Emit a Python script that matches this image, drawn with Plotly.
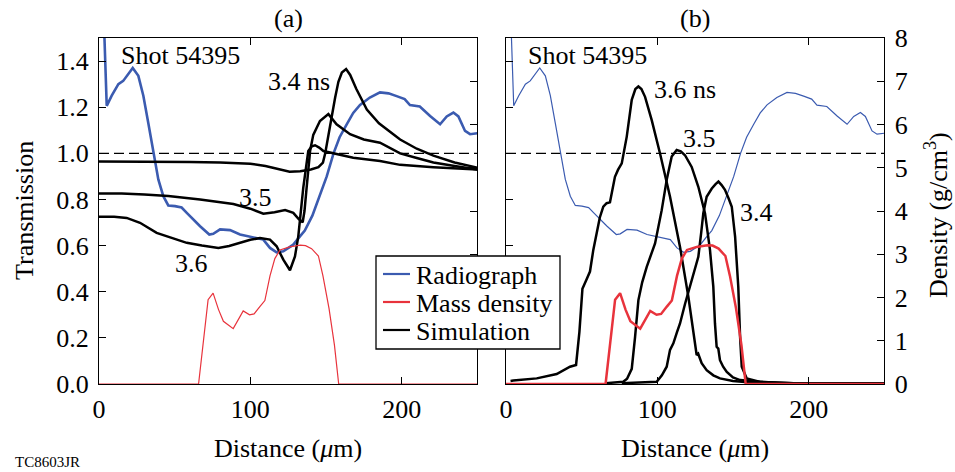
import plotly.graph_objects as go

# ---------------- data ----------------
# Radiograph transmission (shared by both panels)
rad_x = [3.0, 5.1, 8.4, 12.8, 16, 22.3, 26, 29.3, 32.6, 35.9, 39.2, 42.5, 45.8, 50.2, 54.6, 58, 62.3,
         66.8, 72.9, 75.5, 80, 86.6, 93.2, 102, 108.6, 113, 117.4, 121.8, 128.4, 132.8, 136, 141,
         146, 150.5, 155, 159, 163.7, 168, 172.5, 179, 185.7, 191.3, 196.7, 202, 205.5, 212, 218.8,
         225.4, 229.8, 234.2, 237.5, 241.9, 245.2, 250]
rad_t = [1.62, 1.206, 1.25, 1.30, 1.314, 1.37, 1.336, 1.25, 1.13, 1.0, 0.887, 0.814, 0.774, 0.771,
         0.765, 0.742, 0.713, 0.684, 0.648, 0.651, 0.67, 0.667, 0.648, 0.636, 0.626, 0.59, 0.571,
         0.575, 0.604, 0.64, 0.665, 0.73, 0.822, 0.9, 1.0, 1.07, 1.126, 1.175, 1.21, 1.242, 1.264,
         1.26, 1.248, 1.235, 1.209, 1.203, 1.162, 1.126, 1.16, 1.177, 1.16, 1.097, 1.083, 1.087]

# Mass density (g/cm^3)
rho_x = [0, 65.8, 72.1, 75.4, 79, 82.2, 88.7, 92, 95.3, 99.5, 102.5, 106.3, 109.6, 113, 116.2,
         119.6, 126, 133, 136.5, 140.5, 145, 148, 152, 155.6, 158.4, 250]
rho_d = [0, 0, 1.95, 2.1, 1.72, 1.45, 1.28, 1.5, 1.69, 1.6, 1.62, 1.79, 1.93, 2.5, 2.9,
         3.1, 3.17, 3.21, 3.2, 3.13, 2.96, 2.5, 1.75, 0.9, 0, 0]

# Simulated transmission, panel (a)
simT34_x = [0, 20, 40, 60, 80, 100, 110, 120, 126, 133, 140, 145, 148, 149.5, 151.5, 153.8, 156,
            158.2, 160.5, 163.3, 166, 170, 177, 185, 199, 210, 221, 235, 250]
simT34_t = [0.965, 0.965, 0.963, 0.962, 0.96, 0.955, 0.945, 0.93, 0.92, 0.922, 0.93, 0.94, 0.96,
            1.0, 1.08, 1.16, 1.24, 1.31, 1.35, 1.365, 1.34, 1.28, 1.19, 1.13, 1.06, 1.02, 0.99,
            0.96, 0.938]
simT35_x = [0, 15, 30, 45.8, 66.8, 88.8, 100, 108.6, 116, 123, 128.4, 132, 134.6, 135.8, 137.2,
            139.5, 141.6, 146, 151.6, 157, 165.9, 175, 185.7, 199, 210, 221, 235, 250]
simT35_t = [0.826, 0.826, 0.822, 0.815, 0.8, 0.78, 0.76, 0.738, 0.745, 0.754, 0.742, 0.715, 0.701,
            0.75, 0.85, 1.01, 1.08, 1.14, 1.17, 1.126, 1.083, 1.06, 1.046, 1.0, 0.98, 0.96, 0.945,
            0.93]
simT36_x = [0, 10, 18.3, 27.1, 38.1, 44.7, 58, 68, 78.9, 86, 93.2, 100, 106.4, 113, 117.4, 121.8,
            126.2, 129.5, 131.7, 135, 138.3, 140.6, 142.8, 145.5, 148.3, 157, 168, 185.7, 199, 221,
            250]
simT36_t = [0.725, 0.725, 0.72, 0.699, 0.655, 0.64, 0.612, 0.6, 0.59, 0.598, 0.612, 0.625, 0.633,
            0.626, 0.597, 0.539, 0.493, 0.553, 0.64, 0.851, 1.01, 1.03, 1.035, 1.025, 1.01, 0.996,
            0.981, 0.967, 0.95, 0.94, 0.93]

# Simulated density, panel (b)
simD36_x = [3.0, 4.8, 20.3, 33.5, 42.3, 46.3, 48.5, 50.5, 53, 55.5, 57.7, 59.9, 62, 64.3, 66.5,
            68.7, 72, 74, 76.5, 79.8, 83.1, 85.5, 87.5, 89.5, 91.9, 96.3, 101.8, 108.4, 115, 120.5,
            123.8, 126, 127, 128, 129.3, 132.6, 137, 141.4, 150, 160, 180, 250]
simD36_d = [0.07, 0.08, 0.13, 0.23, 0.4, 0.44, 1.2, 2.2, 2.4, 2.6, 3.1, 3.45, 3.85, 4.1, 4.18,
            4.2, 4.79, 4.95, 5.1, 5.72, 6.57, 6.82, 6.88, 6.82, 6.64, 6.1, 5.33, 4.33, 3.17, 2.02,
            1.25, 0.67, 0.7, 0.62, 0.48, 0.32, 0.2, 0.13, 0.07, 0.04, 0.02, 0.01]
simD35_x = [66, 72, 77.5, 80, 83.1, 85.3, 87.5, 90, 93, 98.5, 102.9, 106.2, 109.5, 112.8, 115.5,
            118.3, 122.7, 127.1, 131.5, 134.8, 137, 138.1, 139.2, 140.3, 141.4, 143.5, 145.9, 150,
            154.7, 167.9, 190, 250]
simD35_d = [0.02, 0.03, 0.05, 0.12, 0.35, 1.09, 1.94, 2.35, 2.71, 3.25, 4.02, 4.72, 5.26, 5.41,
            5.38, 5.29, 5.02, 4.56, 3.95, 3.1, 2.25, 1.4, 0.86, 0.82, 0.55, 0.4, 0.28, 0.15, 0.09,
            0.05, 0.02, 0.01]
simD34_x = [76.5, 90, 99.6, 103, 106.2, 108.4, 110.6, 113, 115, 118.3, 121.6, 124.5, 127.1, 129,
            130.4, 132.6, 136, 138.5, 140.4, 142.5, 144.7, 147, 149.2, 151.4, 153.5, 154.7, 155.8,
            159.1, 168, 190, 250]
simD34_d = [0.02, 0.03, 0.05, 0.2, 0.4, 0.79, 0.94, 1.2, 1.4, 1.85, 2.25, 2.6, 2.94, 3.5, 3.95,
            4.33, 4.52, 4.62, 4.68, 4.6, 4.49, 4.3, 4.1, 3.41, 2.25, 1.09, 0.4, 0.13, 0.05, 0.02,
            0.01]

x_ticks = [0, 100, 200]
t_ticks = [0.0, 0.2, 0.4, 0.6, 0.8, 1.0, 1.2, 1.4]
d_ticks = [0, 1, 2, 3, 4, 5, 6, 7, 8]
unity = 1.0
legend_names = ["Radiograph", "Mass density", "Simulation"]

# ---------------- style ----------------
W, H = 955, 472
FONT = '"Liberation Serif", "Times New Roman", Times, serif'
BLUE = "#3b5bb0"
RED = "#e8333c"
BLACK = "#000000"
legend_colors = [BLUE, RED, BLACK]


def px(x):
    return x / W


def py(y):
    return 1 - y / H


XL = [px(99), px(477.3)]
XR = [px(506), px(884.3)]
YD = [py(384), py(38)]

fig = go.Figure()

# panel (a)
fig.add_trace(go.Scatter(x=rad_x, y=rad_t, mode="lines", line=dict(color=BLUE, width=2.6),
                         name="Radiograph", xaxis="x", yaxis="y"))
fig.add_trace(go.Scatter(x=rho_x, y=rho_d, mode="lines", line=dict(color=RED, width=1.2),
                         name="Mass density", xaxis="x", yaxis="y2"))
for sx, st in [(simT34_x, simT34_t), (simT35_x, simT35_t), (simT36_x, simT36_t)]:
    fig.add_trace(go.Scatter(x=sx, y=st, mode="lines", line=dict(color=BLACK, width=2.5),
                             name="Simulation", xaxis="x", yaxis="y"))

# panel (b)
fig.add_trace(go.Scatter(x=rad_x, y=rad_t, mode="lines", line=dict(color=BLUE, width=1.2),
                         name="Radiograph", xaxis="x2", yaxis="y3"))
for sx, sd in [(simD36_x, simD36_d), (simD35_x, simD35_d), (simD34_x, simD34_d)]:
    fig.add_trace(go.Scatter(x=sx, y=sd, mode="lines", line=dict(color=BLACK, width=2.5),
                             name="Simulation", xaxis="x2", yaxis="y4"))
fig.add_trace(go.Scatter(x=rho_x, y=rho_d, mode="lines", line=dict(color=RED, width=2.5),
                         name="Mass density", xaxis="x2", yaxis="y4"))

# dashed unity lines
for xa, ya in [("x", "y"), ("x2", "y3")]:
    fig.add_shape(type="line", xref=xa, yref=ya, x0=0, x1=250, y0=unity, y1=unity,
                  line=dict(color=BLACK, width=1.3, dash="10px,5px"), layer="below")

axis_common = dict(showline=True, linecolor=BLACK, linewidth=1.3, ticks="inside", ticklen=7,
                   tickwidth=1.3, tickcolor=BLACK, showgrid=False, zeroline=False,
                   tickfont=dict(family=FONT, size=26, color=BLACK), automargin=False)

fig.update_layout(
    width=W, height=H, margin=dict(l=0, r=0, t=0, b=0),
    paper_bgcolor="white", plot_bgcolor="white", template="none",
    font=dict(family=FONT, size=26, color=BLACK),
    showlegend=False,
    xaxis=dict(domain=XL, anchor="y", range=[0, 250], tickvals=x_ticks, mirror="ticks",
               ticklabelstandoff=2, **axis_common),
    yaxis=dict(domain=YD, anchor="x", range=[0, 1.5], tickvals=t_ticks, tickformat=".1f",
               ticklabelstandoff=4, **axis_common),
    yaxis2=dict(overlaying="y", anchor="x", side="right", range=[0, 8], tickvals=d_ticks,
                showticklabels=False, **axis_common),
    xaxis2=dict(domain=XR, anchor="y3", range=[0, 250], tickvals=x_ticks, mirror="ticks",
                ticklabelstandoff=2, **axis_common),
    yaxis3=dict(domain=YD, anchor="x2", range=[0, 1.5], tickvals=t_ticks,
                showticklabels=False, **axis_common),
    yaxis4=dict(overlaying="y3", anchor="x2", side="right", range=[0, 8], tickvals=d_ticks,
                ticklabelstandoff=4, **axis_common),
)


def ann(text, x, y, size=26, angle=0, xanchor="center"):
    fig.add_annotation(text=text, x=px(x), y=py(y), xref="paper", yref="paper",
                       xanchor=xanchor, yanchor="middle", showarrow=False, textangle=angle,
                       font=dict(family=FONT, size=size, color=BLACK))


# legend box (drawn over the axes, as in the reference)
fig.add_shape(type="rect", xref="paper", yref="paper", x0=px(376), x1=px(560),
              y0=py(349), y1=py(256), fillcolor="white", line=dict(color=BLACK, width=1.3),
              layer="above")
for i, (name, col) in enumerate(zip(legend_names, legend_colors)):
    yc = 274 + i * 28
    fig.add_shape(type="line", xref="paper", yref="paper", x0=px(383), x1=px(410),
                  y0=py(yc), y1=py(yc), line=dict(color=col, width=2.2), layer="above")
    ann(name, 414, yc + 1, xanchor="left")

ann("(a)", 288, 18)
ann("(b)", 695, 18)
ann("Shot 54395", 180, 55)
ann("Shot 54395", 587, 55)
ann("3.4 ns", 299, 82)
ann("3.5", 255, 197)
ann("3.6", 191.5, 263)
ann("3.6 ns", 685, 90)
ann("3.5", 699, 138)
ann("3.4", 756, 212)
ann("Distance (<i>μ</i>m)", 288, 448)
ann("Distance (<i>μ</i>m)", 695, 448)
ann("Transmission", 24, 211, angle=-90)
ann("Density (g/cm<sup>3</sup>)", 936, 215, angle=-90)
ann("TC8603JR", 47.5, 462, size=15)

fig.write_html("out.html")
